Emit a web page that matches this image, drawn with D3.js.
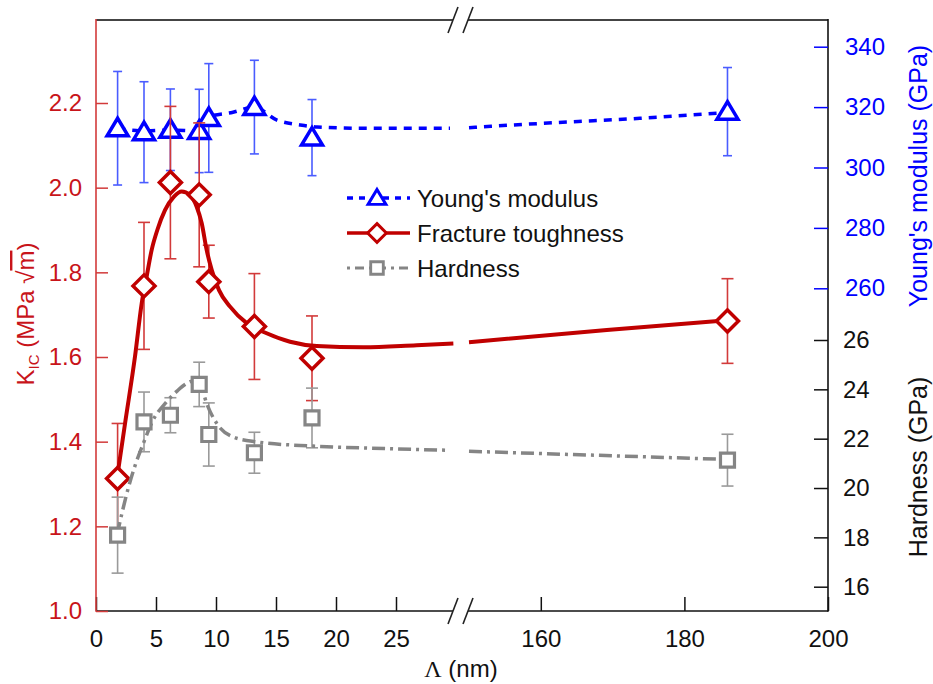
<!DOCTYPE html>
<html><head><meta charset="utf-8">
<script src="https://cdn.jsdelivr.net/npm/d3@7"></script>
<style>body{margin:0;background:#fff}svg{display:block}text{font-family:"Liberation Sans",Arial,sans-serif}</style>
</head><body><svg id="c" width="933" height="684"></svg>
<script>
// ---- data ----
const lambda = [1.8, 4.0, 6.2, 8.6, 9.4, 13.2, 18.0, 186];
const modulus = [313.0, 311.7, 312.5, 312.1, 316.4, 320.0, 309.9, 318.5];
const modulusErr = [18.8, 16.7, 13.5, 13.8, 18.0, 15.5, 12.6, 14.6];
const toughness = [1.313, 1.768, 2.012, 1.983, 1.778, 1.672, 1.597, 1.685];
const toughnessErr = [0.13, 0.15, 0.18, 0.17, 0.086, 0.125, 0.10, 0.10];
const hardness = [18.09, 22.68, 22.95, 24.2, 22.17, 21.43, 22.84, 21.13];
const hardnessErr = [1.54, 1.21, 0.71, 0.90, 1.28, 0.83, 1.21, 1.05];

// fitted guide curves
const modulusFitX = [1.78, 4.0, 6.17, 8.58, 9.33, 11.42, 13.17, 15.08, 17.0, 18.42, 22.58, 29.5, 150, 160, 173.8, 186];
const modulusFitY = [312.9, 312.1, 312.4, 312.1, 316.7, 318.3, 320.0, 315.7, 314.1, 313.4, 313.0, 313.0, 313.2, 314.6, 316.3, 318.2];
const toughnessFitX = [1.75, 2.42, 3.25, 3.81, 4.22, 4.64, 5.11, 5.75, 6.5, 7.14, 7.83, 8.39, 8.81, 9.22, 9.64, 10.25, 11.17, 12.56, 14.22, 16.17, 18.39, 22.28, 26.72, 29.78, 150, 169.2, 186];
const toughnessFitY = [1.313, 1.443, 1.601, 1.727, 1.790, 1.853, 1.900, 1.947, 1.979, 1.991, 1.983, 1.955, 1.916, 1.853, 1.806, 1.758, 1.719, 1.680, 1.656, 1.636, 1.626, 1.623, 1.628, 1.632, 1.635, 1.664, 1.687];
const hardnessFitX = [1.75, 2.69, 3.25, 3.94, 4.7, 5.89, 6.8, 7.6, 8.2, 8.7, 9.22, 10.06, 11.44, 13.39, 18.1, 24, 29.5, 150, 186];
const hardnessFitY = [18.1, 20.0, 20.9, 21.8, 22.7, 23.5, 23.95, 24.25, 24.35, 24.2, 23.43, 22.62, 22.07, 21.87, 21.70, 21.6, 21.53, 21.49, 21.16];

const xTicksLow = [0, 5, 10, 15, 20, 25];
const xTicksHigh = [160, 180, 200];
const leftTicks = [1.0, 1.2, 1.4, 1.6, 1.8, 2.0, 2.2];
const modulusTicks = [260, 280, 300, 320, 340];
const hardnessTicks = [16, 18, 20, 22, 24, 26];
const legendLabels = ["Young's modulus", "Fracture toughness", "Hardness"];

// ---- layout ----
const L = 96, R = 828, T = 20, B = 611;
const RED = "#c00000", REDL = "#d23a3a", BLUE = "#0000ff", BLUEL = "#4a5cff", GRAY = "#858585", GRAYL = "#9a9a9a";

const xA = d3.scaleLinear().domain([0, 30]).range([L, 456]);
const xB = d3.scaleLinear().domain([150, 200]).range([469, R]);
const x = v => v < 100 ? xA(v) : xB(v);
const yK = d3.scaleLinear().domain([1.0, 2.2]).range([B, 103]);
const yE = d3.scaleLinear().domain([260, 340]).range([288.3, 46.7]);
const yH = d3.scaleLinear().domain([16, 26]).range([586.7, 340]);

const svg = d3.select("#c");

// frame lines with break marks
const brk = [453, 468];
function hline(y, color, w) {
  svg.append("line").attr("x1", L).attr("x2", brk[0]).attr("y1", y).attr("y2", y).attr("stroke", color).attr("stroke-width", w);
  svg.append("line").attr("x1", brk[1]).attr("x2", R).attr("y1", y).attr("y2", y).attr("stroke", color).attr("stroke-width", w);
  brk.forEach(cx => svg.append("line").attr("x1", cx - 5).attr("x2", cx + 5).attr("y1", y + 13).attr("y2", y - 13)
    .attr("stroke", "#222").attr("stroke-width", 1.6));
}
hline(T, "#444", 2);
hline(B, "#111", 1.6);

// axes
function styleAxis(g, color, fs) {
  g.select(".domain").remove();
  g.selectAll("line").attr("stroke", color).attr("stroke-width", 1.5);
  g.selectAll("text").attr("fill", color).attr("font-size", fs).attr("font-family", "Liberation Sans, Arial, sans-serif");
}
const gxA = svg.append("g").attr("transform", `translate(0,${B})`)
  .call(d3.axisBottom(xA).tickValues(xTicksLow).tickFormat(d3.format("d")).tickSize(-14).tickPadding(19));
styleAxis(gxA, "#111", 24);
const gxB = svg.append("g").attr("transform", `translate(0,${B})`)
  .call(d3.axisBottom(xB).tickValues(xTicksHigh).tickFormat(d3.format("d")).tickSize(-14).tickPadding(19));
styleAxis(gxB, "#111", 24);

svg.append("line").attr("x1", R).attr("x2", R).attr("y1", T - 1).attr("y2", B + 0.8).attr("stroke", "#111").attr("stroke-width", 1.6);
const gE = svg.append("g").attr("transform", `translate(${R},0)`)
  .call(d3.axisRight(yE).tickValues(modulusTicks).tickFormat(d3.format("d")).tickSize(-14).tickPadding(17));
styleAxis(gE, BLUE, 24);
const gH = svg.append("g").attr("transform", `translate(${R},0)`)
  .call(d3.axisRight(yH).tickValues(hardnessTicks).tickFormat(d3.format("d")).tickSize(-14).tickPadding(15));
styleAxis(gH, "#111", 24);

svg.append("line").attr("x1", L).attr("x2", L).attr("y1", T - 1).attr("y2", B + 0.8).attr("stroke", REDL).attr("stroke-width", 1.6);
const gK = svg.append("g").attr("transform", `translate(${L},0)`)
  .call(d3.axisLeft(yK).tickValues(leftTicks).tickFormat(d3.format(".1f")).tickSize(-12).tickPadding(14));
styleAxis(gK, REDL, 24);
gK.selectAll("text").attr("fill", "#c8141a");

// axis titles
const tK = svg.append("text").attr("transform", "translate(34,314) rotate(-90)").attr("text-anchor", "middle")
  .attr("fill", "#c8141a").attr("font-size", 24);
tK.append("tspan").text("K");
tK.append("tspan").attr("font-size", 15).attr("dy", 5).text("IC");
tK.append("tspan").attr("dy", -5).text(" (MPa ");
tK.append("tspan").text("√");
tK.append("tspan").attr("text-decoration", "overline").text("m");
tK.append("tspan").text(")");

svg.append("text").attr("transform", "translate(927,176) rotate(-90)").attr("text-anchor", "middle")
  .attr("fill", BLUE).attr("font-size", 25).text("Young's modulus (GPa)");
svg.append("text").attr("transform", "translate(927,467) rotate(-90)").attr("text-anchor", "middle")
  .attr("fill", "#111").attr("font-size", 25).text("Hardness (GPa)");
const tX = svg.append("text").attr("x", 461).attr("y", 677).attr("text-anchor", "middle").attr("fill", "#111").attr("font-size", 24);
tX.append("tspan").attr("font-family", "Liberation Serif, Times New Roman, serif").text("Λ");
tX.append("tspan").text(" (nm)");

// helpers
function errorBars(vals, errs, ys, color, cap) {
  const g = svg.append("g").attr("stroke", color).attr("stroke-width", 1.6);
  lambda.forEach((l, i) => {
    const cx = x(l), y1 = ys(vals[i] + errs[i]), y2 = ys(vals[i] - errs[i]);
    g.append("line").attr("x1", cx).attr("x2", cx).attr("y1", y1).attr("y2", y2);
    g.append("line").attr("x1", cx - cap).attr("x2", cx + cap).attr("y1", y1).attr("y2", y1);
    g.append("line").attr("x1", cx - cap).attr("x2", cx + cap).attr("y1", y2).attr("y2", y2);
  });
}
function fitCurve(fx, fy, ys, color, w, dash) {
  const pts = fx.map((v, i) => [v, fy[i]]);
  const segs = [pts.filter(p => p[0] < 100), pts.filter(p => p[0] >= 100)];
  const line = d3.line().x(p => x(p[0])).y(p => ys(p[1])).curve(d3.curveMonotoneX);
  segs.forEach(s => svg.append("path").attr("d", line(s)).attr("fill", "none").attr("stroke", color)
    .attr("stroke-width", w).attr("stroke-dasharray", dash));
}
const triPath = "M0,-10L10.5,7.5L-10.5,7.5Z";
const diaPath = "M0,-11L11,0L0,11L-11,0Z";
const sqPath = "M-7,-7L7,-7L7,7L-7,7Z";
function markers(vals, ys, path, color, w) {
  svg.append("g").selectAll("path").data(lambda).join("path")
    .attr("transform", (l, i) => `translate(${x(l)},${ys(vals[i])})`)
    .attr("d", path).attr("fill", "#fff").attr("stroke", color).attr("stroke-width", w).attr("stroke-linejoin", "miter");
}

// Young's modulus
errorBars(modulus, modulusErr, yE, BLUEL, 4.5);
fitCurve(modulusFitX, modulusFitY, yE, BLUE, 3.5, "8,7");
markers(modulus, yE, triPath, BLUE, 3.5);
// Fracture toughness
errorBars(toughness, toughnessErr, yK, REDL, 6);
fitCurve(toughnessFitX, toughnessFitY, yK, RED, 4, null);
markers(toughness, yK, diaPath, RED, 3.5);
// Hardness
errorBars(hardness, hardnessErr, yH, GRAYL, 6);
fitCurve(hardnessFitX, hardnessFitY, yH, GRAY, 3.5, "13,5,3,5");
markers(hardness, yH, sqPath, GRAY, 3.2);

// legend
const legend = [
  {color: BLUE, dash: "6,6", path: triPath, w: 3.5},
  {color: RED, dash: null, path: diaPath, w: 3.5},
  {color: GRAY, dash: "3,5,9,5", path: sqPath, w: 3.2}
];
legend.forEach((d, i) => {
  const cy = 198 + i * 35;
  svg.append("line").attr("x1", 347).attr("x2", 410).attr("y1", cy).attr("y2", cy)
    .attr("stroke", d.color).attr("stroke-width", d.w).attr("stroke-dasharray", d.dash);
  svg.append("path").attr("transform", `translate(377,${cy}) scale(${i === 2 ? 0.9 : 0.85})`).attr("d", d.path)
    .attr("fill", "#fff").attr("stroke", d.color).attr("stroke-width", d.w);
  svg.append("text").attr("x", 417).attr("y", cy + 8.5).attr("font-size", 24).attr("fill", "#111").text(legendLabels[i]);
});
</script></body></html>
